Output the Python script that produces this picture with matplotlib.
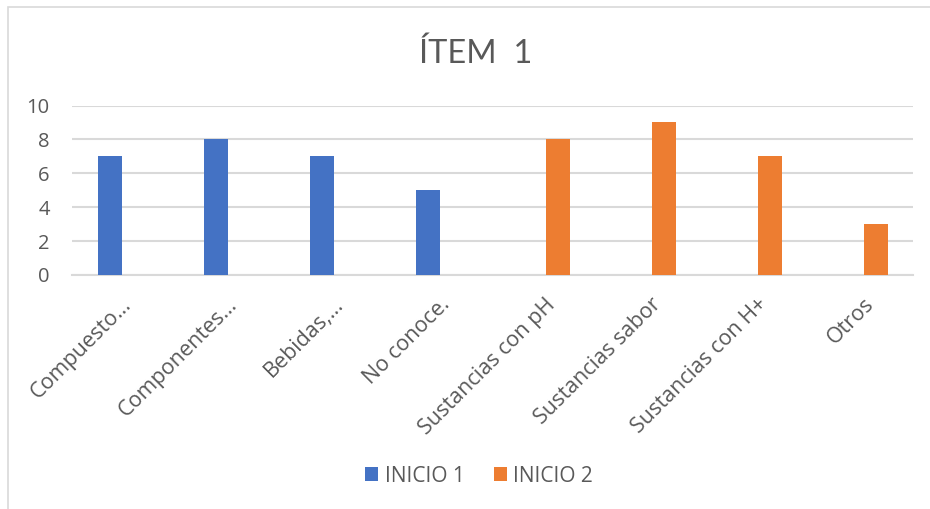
import matplotlib
matplotlib.use("Agg")
import matplotlib.pyplot as plt
import matplotlib.transforms as mtransforms
from matplotlib.patches import Rectangle
import numpy as np

plt.rcParams['font.family'] = ['Open Sans', 'DejaVu Sans']

title = "ÍTEM  1"
categories = ["Compuesto…", "Componentes…", "Bebidas,…", "No conoce.",
              "Sustancias con pH", "Sustancias sabor", "Sustancias con H+", "Otros"]
series_names = ["INICIO 1", "INICIO 2"]
inicio1 = [7, 8, 7, 5, 0, 0, 0, 0]
inicio2 = [0, 0, 0, 0, 8, 9, 7, 3]
y_ticks = [0, 2, 4, 6, 8, 10]

blue = "#4472C4"
orange = "#ED7D31"
text_gray = "#595959"
grid_gray = "#D9D9D9"

fig = plt.figure(figsize=(9.30, 5.09), dpi=100)
fig.patch.set_facecolor("white")

# chart frame
fig.patches.append(Rectangle((8 / 930, -0.05), 1.2, 1 - 7 / 509 + 0.05,
                             transform=fig.transFigure, fill=False,
                             edgecolor="#D9D9D9", linewidth=1.2))

ax = fig.add_axes([72 / 930, 1 - 275 / 509, (913 - 72) / 930, (275 - 105.5) / 509])

x = np.arange(len(categories))
w = 0.2264
ax.bar(x - w / 2, inicio1, width=w, color=blue, label=series_names[0], zorder=3)
ax.bar(x + w / 2, inicio2, width=w, color=orange, label=series_names[1], zorder=3)

ax.set_xlim(-0.472, 7.462)
ax.set_ylim(0, 10)
ax.set_yticks(y_ticks)
ax.set_yticklabels([str(v) for v in y_ticks], fontsize=14.5, color=text_gray)
ax.tick_params(axis="y", length=0, pad=16)
ax.tick_params(axis="x", length=0, pad=0)
ax.yaxis.grid(True, color=grid_gray, linewidth=1.5, zorder=0)
for s in ["left", "right", "top"]:
    ax.spines[s].set_visible(False)
ax.spines["bottom"].set_color(grid_gray)
ax.spines["bottom"].set_linewidth(1.5)

ax.set_xticks(x)
ax.set_xticklabels(categories, rotation=45, ha="right", va="top",
                   rotation_mode="anchor", fontsize=15.5, color=text_gray)
offset = mtransforms.ScaledTranslation(-1 / 100, -19 / 100, fig.dpi_scale_trans)
for lbl in ax.get_xticklabels():
    lbl.set_transform(lbl.get_transform() + offset)

fig.text(0.5 + 11 / 930, 1 - 54 / 509, title, ha="center", va="center",
         fontsize=23.5, color=text_gray, family=['Lato', 'DejaVu Sans'])

leg = fig.legend(loc="center", bbox_to_anchor=(0.5 + 14 / 930, 1 - 476 / 509), ncol=2,
                 frameon=False, fontsize=15, handlelength=0.65, handleheight=0.65,
                 handletextpad=0.3, columnspacing=1.4)
for t in leg.get_texts():
    t.set_color(text_gray)

fig.savefig("out.png", dpi=100, facecolor="white")
